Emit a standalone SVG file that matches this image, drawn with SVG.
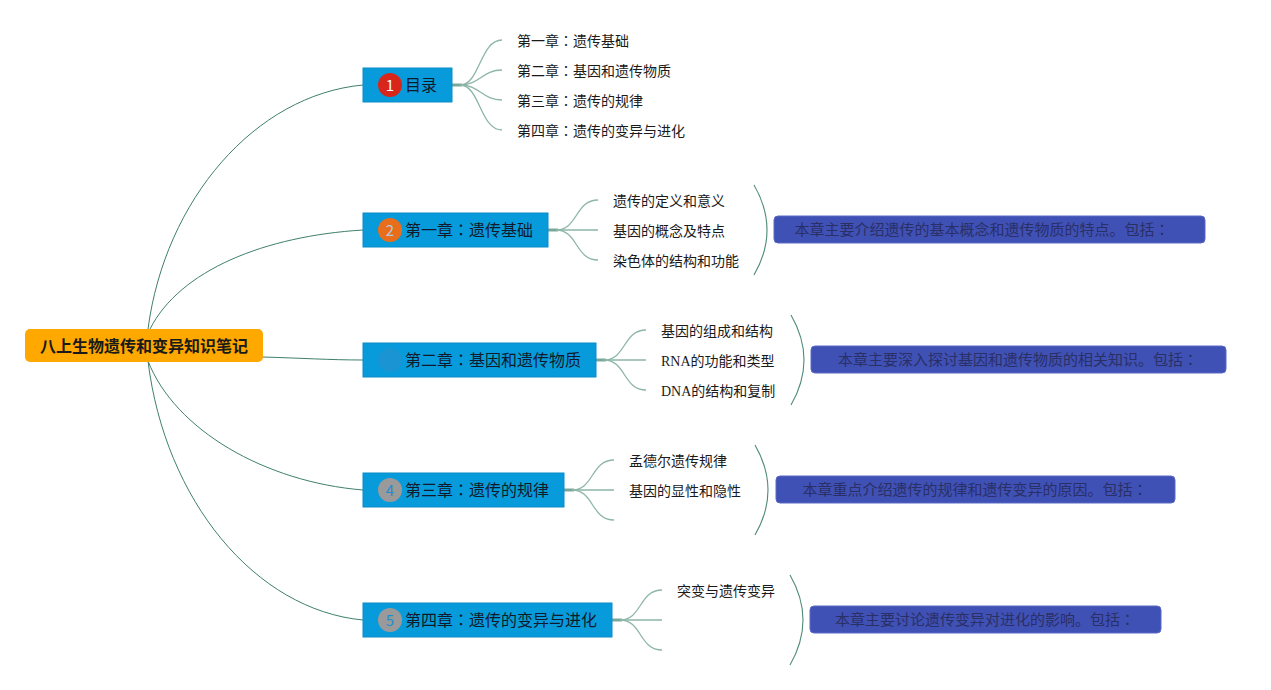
<svg xmlns="http://www.w3.org/2000/svg" width="1271" height="690" viewBox="0 0 1271 690">
<style>
text{font-family:"Noto Sans CJK SC","Noto Sans",sans-serif;}
.jp{font-family:"Noto Sans CJK JP","Noto Sans CJK SC",sans-serif;}
.root{fill:#fea800;}
.rootT{font-size:16px;font-weight:bold;fill:#1a1a1a;}
.ch{fill:#089bdb;stroke:#0a8cc6;stroke-width:1;}
.chT{font-size:16px;fill:#111a2a;}
.sub{font-size:14px;fill:#1a1a1a;}
.serif{font-family:"Liberation Serif","Noto Sans CJK SC",serif;}
.sum{fill:#3f51b5;stroke:#5a6ac4;stroke-width:1;}
.sumT{font-size:15px;fill:#2a2f66;}
.main{fill:none;stroke:#3f7f6e;stroke-width:1;}
.br{fill:none;stroke:#8db5a8;stroke-width:1.3;}
.stub{fill:none;stroke:#7aa898;stroke-width:3;}
.brace{fill:none;stroke:#4f8a7a;stroke-width:1.1;}
</style>
<g id="connectors">
<path class="main" d="M148,329 C165,200 255,95 363,85"/>
<path class="main" d="M150,329 C180,270 265,236 363,230"/>
<path class="main" d="M262,357 C300,358 330,360 363,360"/>
<path class="main" d="M148,361 C175,430 265,482 363,490"/>
<path class="main" d="M148,361 C165,500 255,610 363,620"/>
<path class="stub" d="M452,85 L462,85"/>
<path class="br" d="M460,85 C480,85 480,40 502,40"/>
<path class="br" d="M460,85 C480,85 482,70 502,70"/>
<path class="br" d="M460,85 C480,85 482,100 502,100"/>
<path class="br" d="M460,85 C480,85 480,130 502,130"/>
<path class="stub" d="M548,230 L558,230"/>
<path class="br" d="M556,230 C578,230 575,200 598,200"/>
<path class="br" d="M556,230 L598,230"/>
<path class="br" d="M556,230 C578,230 575,260 598,260"/>
<path class="stub" d="M596,360 L606,360"/>
<path class="br" d="M604,360 C626,360 623,330 646,330"/>
<path class="br" d="M604,360 L646,360"/>
<path class="br" d="M604,360 C626,360 623,390 646,390"/>
<path class="stub" d="M564,490 L574,490"/>
<path class="br" d="M572,490 C594,490 591,460 614,460"/>
<path class="br" d="M572,490 L614,490"/>
<path class="br" d="M572,490 C594,490 591,520 614,520"/>
<path class="stub" d="M612,620 L622,620"/>
<path class="br" d="M620,620 C642,620 639,590 662,590"/>
<path class="br" d="M620,620 L662,620"/>
<path class="br" d="M620,620 C642,620 639,650 662,650"/>
<path class="brace" d="M754,185 Q780,230 754,275"/>
<path class="brace" d="M791,315 Q817,360 791,405"/>
<path class="brace" d="M755,445 Q781,490 755,535"/>
<path class="brace" d="M790,575 Q816,620 790,665"/>
</g>
<g id="root">
<rect class="root" x="25" y="329" width="238" height="33" rx="5"/>
<text class="rootT" x="144" y="351.5" text-anchor="middle">八上生物遗传和变异知识笔记</text>
</g>
<g id="node1">
<rect class="ch" x="363" y="68" width="89" height="34"/>
<circle cx="390" cy="85" r="12" fill="#d8261b"/>
<text x="390" y="90.5" font-size="15" fill="#fff" text-anchor="middle">1</text>
<text class="chT" x="405" y="91">目录</text>
</g>
<g id="node1-children">
<text class="sub" x="517" y="46">第一章<tspan class="jp">：</tspan>遗传基础</text>
<text class="sub" x="517" y="76">第二章<tspan class="jp">：</tspan>基因和遗传物质</text>
<text class="sub" x="517" y="106">第三章<tspan class="jp">：</tspan>遗传的规律</text>
<text class="sub" x="517" y="136">第四章<tspan class="jp">：</tspan>遗传的变异与进化</text>
</g>
<g id="node2">
<rect class="ch" x="363" y="213" width="185" height="34"/>
<circle cx="390" cy="230" r="12" fill="#e86e1c"/>
<text x="390" y="235.5" font-size="15" fill="#b8c9d8" text-anchor="middle">2</text>
<text class="chT" x="405" y="236">第一章<tspan class="jp">：</tspan>遗传基础</text>
</g>
<g id="node2-children">
<text class="sub" x="613" y="206">遗传的定义和意义</text>
<text class="sub" x="613" y="236">基因的概念及特点</text>
<text class="sub" x="613" y="266">染色体的结构和功能</text>
</g>
<g id="summary1">
<rect class="sum" x="774" y="216" width="431" height="27" rx="4"/>
<text class="sumT" x="982" y="235" text-anchor="middle">本章主要介绍遗传的基本概念和遗传物质的特点。包括<tspan class="jp">：</tspan></text>
</g>
<g id="node3">
<rect class="ch" x="363" y="343" width="233" height="34"/>
<circle cx="390" cy="360" r="12" fill="#1a94d2"/>
<text class="chT" x="405" y="366">第二章<tspan class="jp">：</tspan>基因和遗传物质</text>
</g>
<g id="node3-children">
<text class="sub" x="661" y="336">基因的组成和结构</text>
<text class="sub serif" x="661" y="366">RNA的功能和类型</text>
<text class="sub serif" x="661" y="396">DNA的结构和复制</text>
</g>
<g id="summary2">
<rect class="sum" x="811" y="346" width="415" height="27" rx="4"/>
<text class="sumT" x="1018" y="365" text-anchor="middle">本章主要深入探讨基因和遗传物质的相关知识。包括<tspan class="jp">：</tspan></text>
</g>
<g id="node4">
<rect class="ch" x="363" y="473" width="201" height="34"/>
<circle cx="390" cy="490" r="12" fill="#9a9a9a"/>
<text x="390" y="495.5" font-size="15" fill="#1d8ed0" text-anchor="middle">4</text>
<text class="chT" x="405" y="496">第三章<tspan class="jp">：</tspan>遗传的规律</text>
</g>
<g id="node4-children">
<text class="sub" x="629" y="466">孟德尔遗传规律</text>
<text class="sub" x="629" y="496">基因的显性和隐性</text>
</g>
<g id="summary3">
<rect class="sum" x="776" y="476" width="399" height="27" rx="4"/>
<text class="sumT" x="975" y="495" text-anchor="middle">本章重点介绍遗传的规律和遗传变异的原因。包括<tspan class="jp">：</tspan></text>
</g>
<g id="node5">
<rect class="ch" x="363" y="603" width="249" height="34"/>
<circle cx="390" cy="620" r="12" fill="#9a9a9a"/>
<text x="390" y="625.5" font-size="15" fill="#1d8ed0" text-anchor="middle">5</text>
<text class="chT" x="405" y="626">第四章<tspan class="jp">：</tspan>遗传的变异与进化</text>
</g>
<g id="node5-children">
<text class="sub" x="677" y="596">突变与遗传变异</text>
</g>
<g id="summary4">
<rect class="sum" x="810" y="606" width="351" height="27" rx="4"/>
<text class="sumT" x="985" y="625" text-anchor="middle">本章主要讨论遗传变异对进化的影响。包括<tspan class="jp">：</tspan></text>
</g>
</svg>
